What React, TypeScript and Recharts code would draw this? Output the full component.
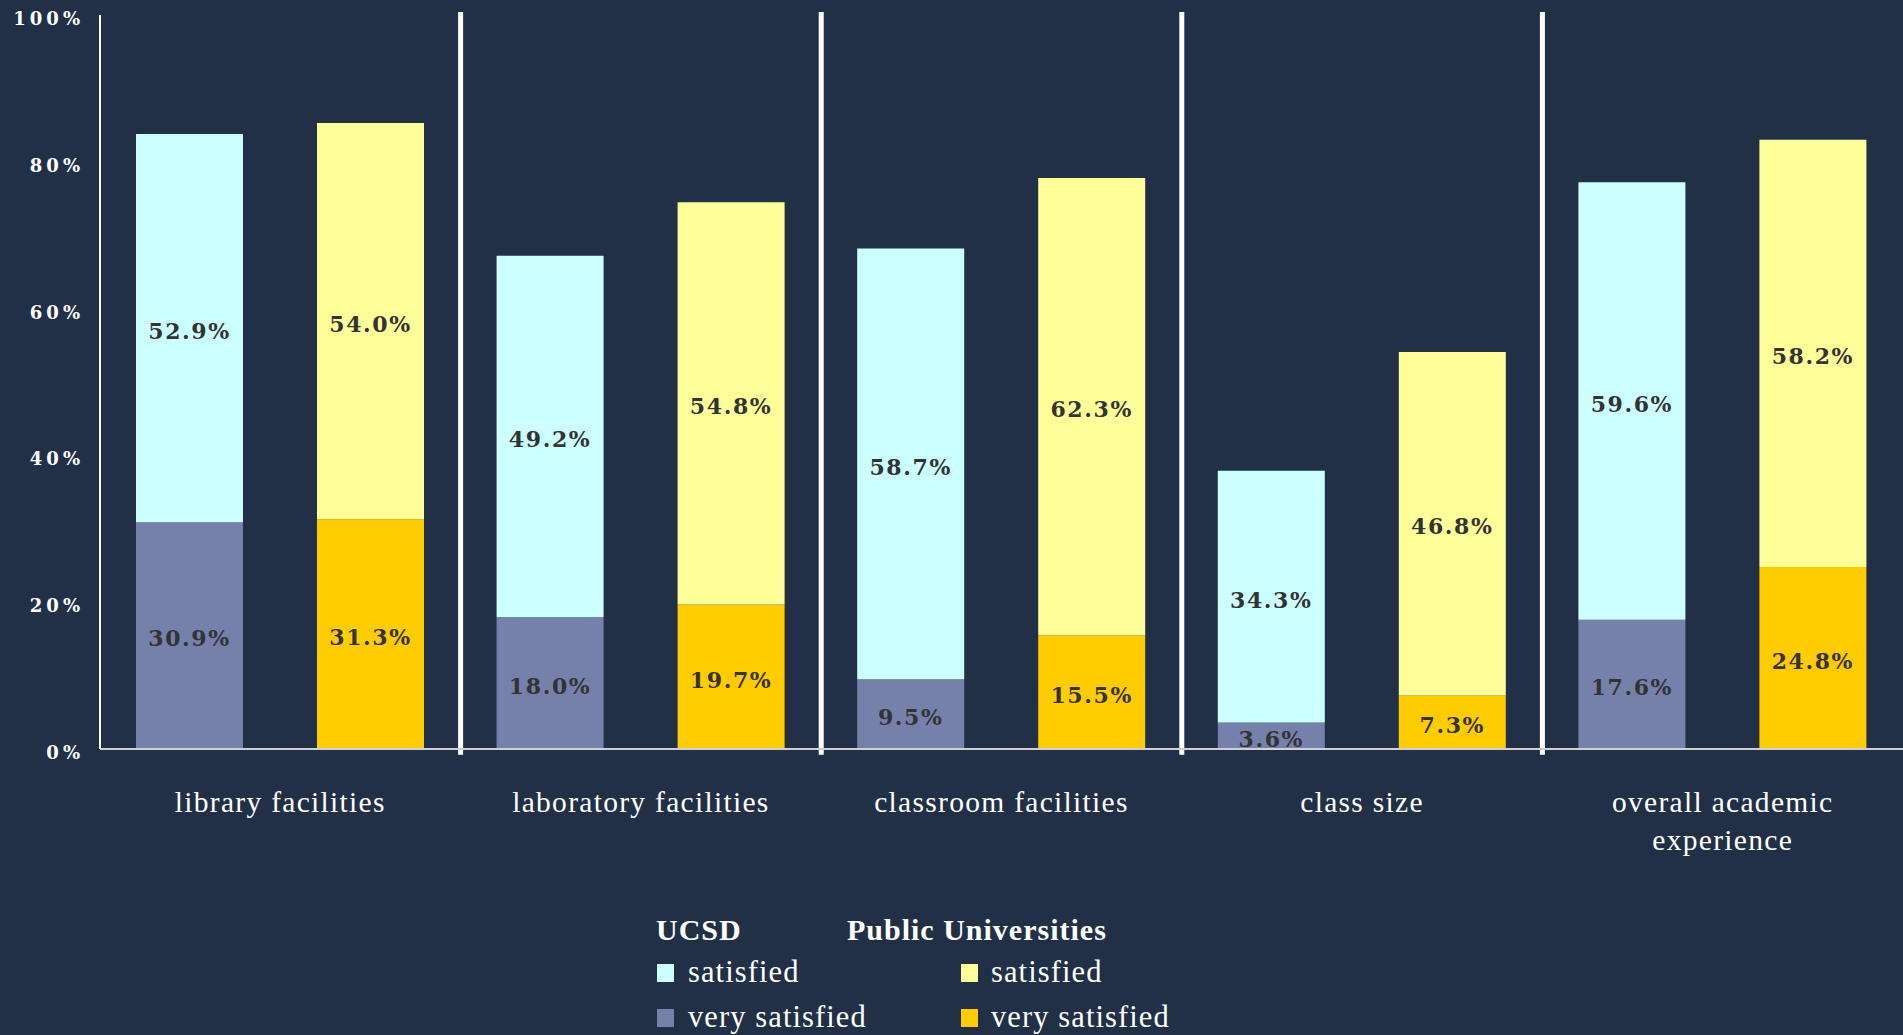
import React from "react";
import { BarChart, Bar, XAxis, YAxis, ReferenceLine, LabelList } from "recharts";

const categories = [
  "library facilities",
  "laboratory facilities",
  "classroom facilities",
  "class size",
  "overall academic experience",
];
const ucsdVerySatisfied = [30.9, 18.0, 9.5, 3.6, 17.6];
const ucsdSatisfied = [52.9, 49.2, 58.7, 34.3, 59.6];
const publicVerySatisfied = [31.3, 19.7, 15.5, 7.3, 24.8];
const publicSatisfied = [54.0, 54.8, 62.3, 46.8, 58.2];
const yTicks = [0, 20, 40, 60, 80, 100];
// separators drawn at the start of every category band except the first
const separatorCategories = categories.slice(1);

const legendGroups = ["UCSD", "Public Universities"];
const legendItems = ["satisfied", "very satisfied"];

const BG = "#223047";
const C_UCSD_SAT = "#CCFFFF";
const C_UCSD_VERY = "#7580AB";
const C_PUB_SAT = "#FFFF99";
const C_PUB_VERY = "#FFCC00";

const data = categories.map((c, i) => ({
  category: c,
  ucsdVery: ucsdVerySatisfied[i],
  ucsdSat: ucsdSatisfied[i],
  pubVery: publicVerySatisfied[i],
  pubSat: publicSatisfied[i],
}));

const W = 1903;
const H = 1035;
const SERIF = "'Liberation Serif', serif";
const NUMSERIF = "'DejaVu Serif', serif";

const labelStyle = {
  fill: "#333333",
  fontFamily: NUMSERIF,
  fontWeight: "bold" as const,
  fontSize: 22,
  letterSpacing: 1.6,
};

const fmt = (v: any) => `${Number(v).toFixed(1)}%`;

const wrapWords = (s: string, maxChars: number) => {
  const words = s.split(" ");
  const lines: string[] = [];
  let cur = "";
  words.forEach((w) => {
    const next = cur ? cur + " " + w : w;
    if (next.length > maxChars && cur) {
      lines.push(cur);
      cur = w;
    } else {
      cur = next;
    }
  });
  if (cur) lines.push(cur);
  return lines;
};

const CategoryTick = (props: any) => {
  const { x, y, payload } = props;
  const lines = wrapWords(String(payload.value), 22);
  return (
    <text
      x={x}
      y={y + 61}
      textAnchor="middle"
      fill="#ffffff"
      fontFamily={SERIF}
      fontSize={29.5}
      letterSpacing={1.3}
    >
      {lines.map((l, i) => (
        <tspan key={i} x={x} dy={i === 0 ? 0 : 38}>
          {l}
        </tspan>
      ))}
    </text>
  );
};

const YTick = (props: any) => {
  const { x, y, payload } = props;
  return (
    <text
      x={x}
      y={y + 10}
      textAnchor="end"
      fill="#ffffff"
      fontFamily={NUMSERIF}
      fontWeight="bold"
      fontSize={18}
      letterSpacing={4}
    >
      {`${payload.value}%`}
    </text>
  );
};

const LegendOverlay = () => {
  const headerX = [656, 847];
  const squareX = [657, 961];
  const textX = [688, 991];
  const colors = [
    [C_UCSD_SAT, C_UCSD_VERY],
    [C_PUB_SAT, C_PUB_VERY],
  ];
  const rowY = [982, 1027];
  return (
    <svg width={W} height={H} style={{ position: "absolute", left: 0, top: 0, pointerEvents: "none" }}>
      {legendGroups.map((g, gi) => (
        <text key={g} x={headerX[gi]} y={940} fill="#ffffff" fontFamily={SERIF} fontWeight="bold" fontSize={30} letterSpacing={1}>
          {g}
        </text>
      ))}
      {legendGroups.map((g, gi) =>
        legendItems.map((it, ii) => (
          <g key={g + it}>
            <rect x={squareX[gi]} y={rowY[ii] - 18} width={17} height={18} fill={colors[gi][ii]} />
            <text x={textX[gi]} y={rowY[ii]} fill="#ffffff" fontFamily={SERIF} fontSize={30.5} letterSpacing={1.1}>
              {it}
            </text>
          </g>
        ))
      )}
    </svg>
  );
};

export default function App() {
  return (
    <div style={{ position: "relative", width: W, height: H, background: BG }}>
      <style>{`body{margin:0;background:${BG};}`}</style>
      <BarChart
        width={W}
        height={H}
        data={data}
        margin={{ top: 15, right: 0, left: 0, bottom: 0 }}
        barCategoryGap={36}
        barGap={74}
      >
        <XAxis
          dataKey="category"
          xAxisId="cat"
          height={286}
          interval={0}
          tickLine={false}
          tickSize={0}
          axisLine={{ stroke: "#d0d0d0", strokeWidth: 2 }}
          tick={<CategoryTick />}
        />
        <YAxis
          width={100}
          domain={[0, 100]}
          ticks={yTicks}
          interval={0}
          tickLine={false}
          tickSize={0}
          tickMargin={16}
          axisLine={{ stroke: "#ffffff", strokeWidth: 2 }}
          tick={<YTick />}
        />
        {separatorCategories.map((c) => (
          <ReferenceLine
            key={c}
            xAxisId="cat"
            position="start"
            segment={[
              { x: c, y: -0.8 },
              { x: c, y: 100.4 },
            ]}
            ifOverflow="visible"
            stroke="#ffffff"
            strokeWidth={5}
          />
        ))}
        <Bar xAxisId="cat" dataKey="ucsdVery" stackId="u" fill={C_UCSD_VERY} isAnimationActive={false}>
          <LabelList dataKey="ucsdVery" position="center" formatter={fmt} style={labelStyle} dy={3} />
        </Bar>
        <Bar xAxisId="cat" dataKey="ucsdSat" stackId="u" fill={C_UCSD_SAT} isAnimationActive={false}>
          <LabelList dataKey="ucsdSat" position="center" formatter={fmt} style={labelStyle} dy={3} />
        </Bar>
        <Bar xAxisId="cat" dataKey="pubVery" stackId="p" fill={C_PUB_VERY} isAnimationActive={false}>
          <LabelList dataKey="pubVery" position="center" formatter={fmt} style={labelStyle} dy={3} />
        </Bar>
        <Bar xAxisId="cat" dataKey="pubSat" stackId="p" fill={C_PUB_SAT} isAnimationActive={false}>
          <LabelList dataKey="pubSat" position="center" formatter={fmt} style={labelStyle} dy={3} />
        </Bar>
      </BarChart>
      <LegendOverlay />
    </div>
  );
}
